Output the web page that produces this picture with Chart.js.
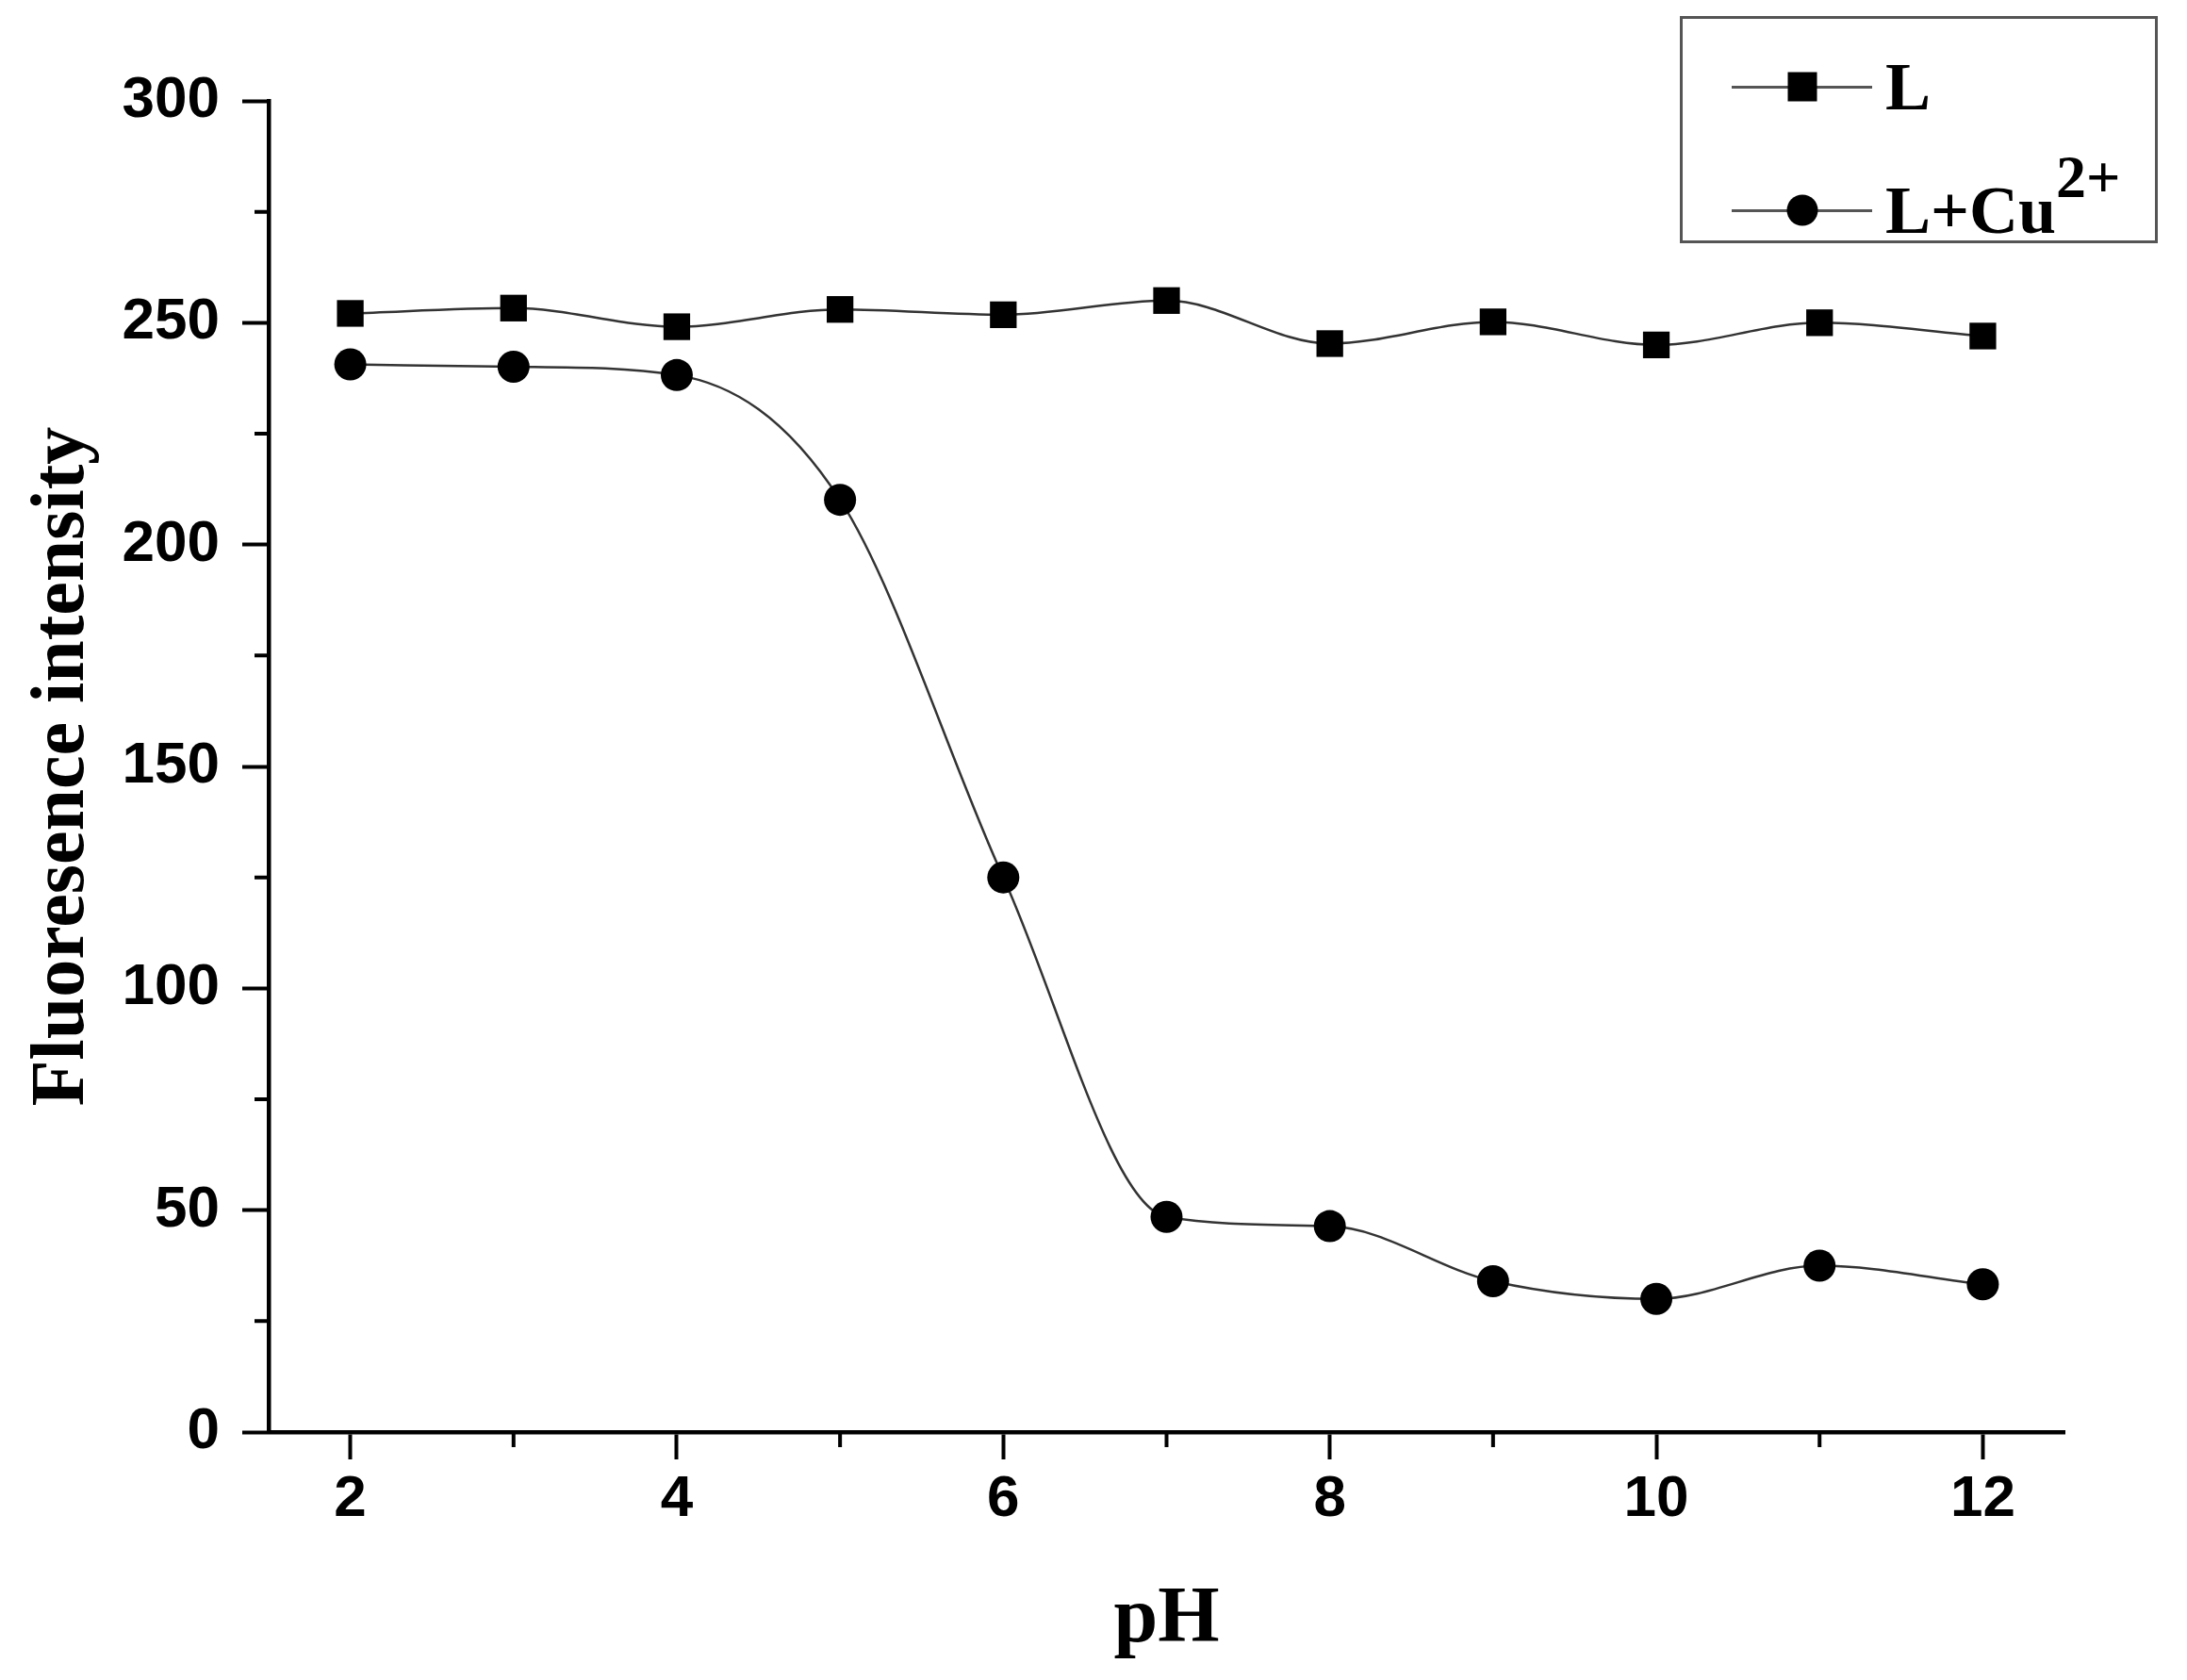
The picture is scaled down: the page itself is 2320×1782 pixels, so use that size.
<!DOCTYPE html>
<html>
<head>
<meta charset="utf-8">
<title>Fluoresence intensity vs pH</title>
<script src="https://cdn.jsdelivr.net/npm/chart.js@4.4.1/dist/chart.umd.min.js"></script>
<style>
  html, body { margin: 0; padding: 0; background: #fff; }
  #wrap { position: relative; width: 2320px; height: 1782px; }
  #c { position: absolute; left: 0; top: 0; }
  #legend {
    position: absolute; left: 1782px; top: 17px;
    width: 507px; height: 241px; box-sizing: border-box;
    border: 3px solid #555; background: #fff;
    font-family: "Liberation Serif", "Times New Roman", serif;
    font-weight: bold; font-size: 72px; color: #000;
  }
  .row { position: absolute; left: 52px; height: 80px; display: flex; align-items: center; line-height: 1; }
  .sample { position: relative; width: 149px; height: 3px; background: #555; margin-right: 14px; }
  .mark { position: absolute; left: 50%; top: 50%; background: #000; transform: translate(-50%, -50%); }
  .mark.rect { width: 31px; height: 31px; }
  .mark.circle { width: 33px; height: 33px; border-radius: 50%; }
  .row sup { font-size: 64px; position: relative; top: -38px; vertical-align: baseline; line-height: 0; }
</style>
</head>
<body>
<div id="wrap">
  <canvas id="c" width="2320" height="1782"></canvas>
  <div id="legend"></div>
</div>
<script>
"use strict";

// ── Data ─────────────────────────────────────────────────────────────
const pH      = [2, 3, 4, 5, 6, 7, 8, 9, 10, 11, 12];
const seriesL  = [252.1, 253.3, 249.1, 253.0, 251.8, 255.0, 245.3, 250.2, 245.0, 250.0, 247.0];
const seriesCu = [240.6, 240.1, 238.2, 210.1, 125.0, 48.5, 46.4, 34.0, 30.0, 37.5, 33.3];
const seriesNames = ["L", "L+Cu2+"];
const seriesMarks = ["rect", "circle"];

const xTicks = [2, 4, 6, 8, 10, 12];
const xMinor = [3, 5, 7, 9, 11];
const yTicks = [0, 50, 100, 150, 200, 250, 300];
const yMinor = [25, 75, 125, 175, 225, 275];

// ── Helpers ──────────────────────────────────────────────────────────
const toPoints = ys => pH.map((x, i) => ({ x, y: ys[i] }));
const supLabel = s => s.replace(/(\d\+)$/, "<sup>$1</sup>");

const tickFont  = { family: "'Liberation Sans', Arial, sans-serif", weight: "bold", size: 62 };
const titleFont = { family: "'Liberation Serif', 'Times New Roman', serif", weight: "bold" };

const dataset = (label, ys, style, radius) => ({
  label,
  data: toPoints(ys),
  borderColor: "#333",
  borderWidth: 2.5,
  pointStyle: style,
  pointRadius: radius,
  pointHoverRadius: radius,
  pointBackgroundColor: "#000",
  pointBorderColor: "#000",
  pointBorderWidth: 0,
  cubicInterpolationMode: "monotone",
  fill: false,
});

// minor tick marks, placed through the scales
const minorTicks = {
  id: "minorTicks",
  afterDraw(chart) {
    const { ctx, scales: { x, y } } = chart;
    ctx.save();
    ctx.strokeStyle = "#000";
    ctx.lineWidth = 4;
    ctx.beginPath();
    xMinor.forEach(v => {
      const px = x.getPixelForValue(v);
      ctx.moveTo(px, x.top);
      ctx.lineTo(px, x.top + 16);
    });
    yMinor.forEach(v => {
      const py = y.getPixelForValue(v);
      ctx.moveTo(y.right, py);
      ctx.lineTo(y.right - 15, py);
    });
    ctx.stroke();
    ctx.restore();
  },
};

const chart = new Chart(document.getElementById("c"), {
  type: "line",
  data: {
    datasets: [
      dataset(seriesNames[0], seriesL, seriesMarks[0], 20),
      dataset(seriesNames[1], seriesCu, seriesMarks[1], 17),
    ],
  },
  options: {
    responsive: false,
    animation: false,
    events: [],
    layout: { padding: { left: 0, top: 107, right: 130, bottom: 0 } },
    plugins: { legend: { display: false }, tooltip: { enabled: false } },
    scales: {
      x: {
        type: "linear",
        min: 1.5,
        max: 12.5,
        afterBuildTicks: s => { s.ticks = xTicks.map(value => ({ value })); },
        afterFit: s => { s.height = 263; },
        grid: { drawOnChartArea: false, drawTicks: true, tickLength: 29, tickWidth: 4, tickColor: "#000" },
        border: { display: true, color: "#000", width: 4.5 },
        ticks: { color: "#000", font: tickFont, padding: 6, maxRotation: 0 },
        title: { display: true, text: "pH", color: "#000", font: { ...titleFont, size: 84 }, padding: { top: 0, bottom: 12 } },
      },
      y: {
        type: "linear",
        min: 0,
        max: 300,
        afterBuildTicks: s => { s.ticks = yTicks.map(value => ({ value })); },
        afterFit: s => { s.width = 285; },
        grid: { drawOnChartArea: false, drawTicks: true, tickLength: 28, tickWidth: 4, tickColor: "#000" },
        border: { display: true, color: "#000", width: 4.5 },
        ticks: { color: "#000", font: tickFont, padding: 24 },
        title: { display: true, text: "Fluoresence intensity", color: "#000", font: { ...titleFont, size: 80 }, padding: { top: 19, bottom: 0 } },
      },
    },
  },
  plugins: [minorTicks],
});

// ── Legend (HTML, built from the datasets) ───────────────────────────
const legendEl = document.getElementById("legend");
const rowCenters = [72, 203];
chart.data.datasets.forEach((ds, i) => {
  const row = document.createElement("div");
  row.className = "row";
  row.style.top = (rowCenters[i] - 40) + "px";
  row.innerHTML = `<div class="sample"><div class="mark ${seriesMarks[i]}"></div></div><span>${supLabel(ds.label)}</span>`;
  legendEl.appendChild(row);
});
</script>
</body>
</html>
